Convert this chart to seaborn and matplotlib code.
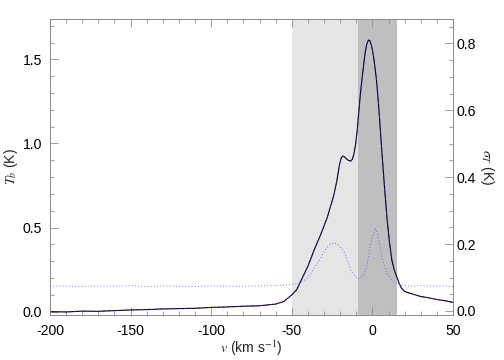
import numpy as np
import pandas as pd
import matplotlib
matplotlib.use("Agg")
import matplotlib.pyplot as plt
from matplotlib.ticker import MultipleLocator
import seaborn as sns

# ---- data ----
v_tb = [-200, -190, -180, -170, -160, -150, -140, -130, -120, -110, -100, -90, -80,
        -70, -60, -55, -50, -47, -44, -40, -36, -32, -28, -24, -22, -20.5, -19.5,
        -18.5, -17.5, -16.5, -15, -13.5, -12.5, -11.5, -10.5, -9.5, -8.5, -7.5, -6.5,
        -5.5, -4.5, -3.5, -2.5, -1.5, -0.5, 0.5, 1.5, 2.5, 3.5, 4.5, 5.5, 6.5, 7.5,
        9, 10.5, 12, 13.5, 15, 16.5, 18, 20, 23, 30, 35, 40, 45, 50]
tb = [0.0, -0.002, 0.003, 0.002, 0.006, 0.010, 0.012, 0.016, 0.018, 0.020, 0.025,
      0.028, 0.032, 0.035, 0.045, 0.060, 0.100, 0.130, 0.190, 0.270, 0.370, 0.460,
      0.560, 0.690, 0.780, 0.870, 0.910, 0.925, 0.922, 0.912, 0.900, 0.895, 0.905,
      0.935, 0.990, 1.070, 1.180, 1.290, 1.380, 1.460, 1.540, 1.590, 1.615, 1.610,
      1.580, 1.530, 1.460, 1.380, 1.270, 1.140, 1.000, 0.870, 0.740, 0.560, 0.420,
      0.310, 0.250, 0.210, 0.170, 0.140, 0.120, 0.110, 0.090, 0.082, 0.072, 0.065,
      0.055]
tb_fit = list(tb)

v_sig = [-200, -190, -180, -170, -160, -150, -140, -130, -120, -110, -100, -90, -80,
         -70, -60, -55, -50, -45, -40, -37, -33, -30, -27, -24, -21, -17, -13, -9,
         -6, -3.5, -1.5, 0, 2, 3.5, 5, 7, 9, 12, 15, 18, 22, 26, 30, 35, 40, 45, 50]
sig = [0.075, 0.074, 0.073, 0.075, 0.074, 0.076, 0.073, 0.075, 0.074, 0.073, 0.075,
       0.074, 0.074, 0.075, 0.076, 0.077, 0.080, 0.083, 0.100, 0.122, 0.150, 0.178,
       0.197, 0.204, 0.197, 0.172, 0.117, 0.095, 0.105, 0.132, 0.190, 0.225, 0.245,
       0.225, 0.183, 0.140, 0.113, 0.093, 0.084, 0.077, 0.075, 0.074, 0.076, 0.075,
       0.074, 0.075, 0.073]

light_band = (-50, -9)
dark_band = (-9, 15)

x_ticks = [-200, -150, -100, -50, 0, 50]
left_ticks = [0.0, 0.5, 1.0, 1.5]
right_ticks = [0.0, 0.2, 0.4, 0.6, 0.8]

# ---- figure ----
sns.set_theme(style="white")
plt.rcParams["font.family"] = ["Liberation Sans", "DejaVu Sans"]
plt.rcParams["mathtext.fontset"] = "stix"

fig = plt.figure(figsize=(7, 5), dpi=72)
ax = fig.add_axes([50 / 504, 45 / 360, 403 / 504, 296 / 360])
ax2 = ax.twinx()

ax.axvspan(*light_band, color="#e5e5e5", lw=0, zorder=0)
ax.axvspan(*dark_band, color="#bfbfbf", lw=0, zorder=0)

df_tb = pd.DataFrame({"v": v_tb, "tb": tb, "fit": tb_fit})
df_sig = pd.DataFrame({"v": v_sig, "sig": sig})

sns.lineplot(data=df_tb, x="v", y="tb", ax=ax, color="black", lw=1.1, zorder=3)
sns.lineplot(data=df_tb, x="v", y="fit", ax=ax, color="#2020ff", lw=0.8,
             linestyle=(0, (2.5, 3.5)), zorder=4)
sns.lineplot(data=df_sig, x="v", y="sig", ax=ax2, color="#5a5aff", lw=0.9,
             linestyle=(0, (1, 2.5)), zorder=4)

ax.set_xlim(-200, 50)
ax.set_ylim(-0.02, 1.74)
ax2.set_ylim(-0.012, 0.873)

ax.set_xticks(x_ticks)
ax.set_xticklabels([str(t) for t in x_ticks])
ax.set_yticks(left_ticks)
ax.set_yticklabels([f"{t:.1f}" for t in left_ticks])
ax2.set_yticks(right_ticks)
ax2.set_yticklabels([f"{t:.1f}" for t in right_ticks])
ax.xaxis.set_minor_locator(MultipleLocator(10))
ax.yaxis.set_minor_locator(MultipleLocator(0.1))
ax2.yaxis.set_minor_locator(MultipleLocator(0.05))

ax.tick_params(axis="x", which="both", direction="in", top=True, bottom=True,
               colors="#888888", labelcolor="black", labelsize=14, pad=9)
ax.tick_params(axis="y", which="both", direction="in", left=True, right=False,
               colors="#888888", labelcolor="black", labelsize=14, pad=8)
ax2.tick_params(axis="y", which="both", direction="in", right=True, left=False,
                colors="#888888", labelcolor="black", labelsize=14, pad=4)
for a in (ax, ax2):
    a.tick_params(which="major", length=8, width=0.8)
    a.tick_params(which="minor", length=4, width=0.8)
    for s in a.spines.values():
        s.set_color("#888888")
        s.set_linewidth(0.8)

ax.set_xlabel(r"$v$ (km s$^{-1}$)", fontsize=14, labelpad=1)
ax.set_ylabel(r"$T_b$ (K)", fontsize=14, labelpad=3)
ax2.set_ylabel(r"$\sigma_T$ (K)", fontsize=14, rotation=270, labelpad=20)

fig.savefig("out.png", dpi=72)
